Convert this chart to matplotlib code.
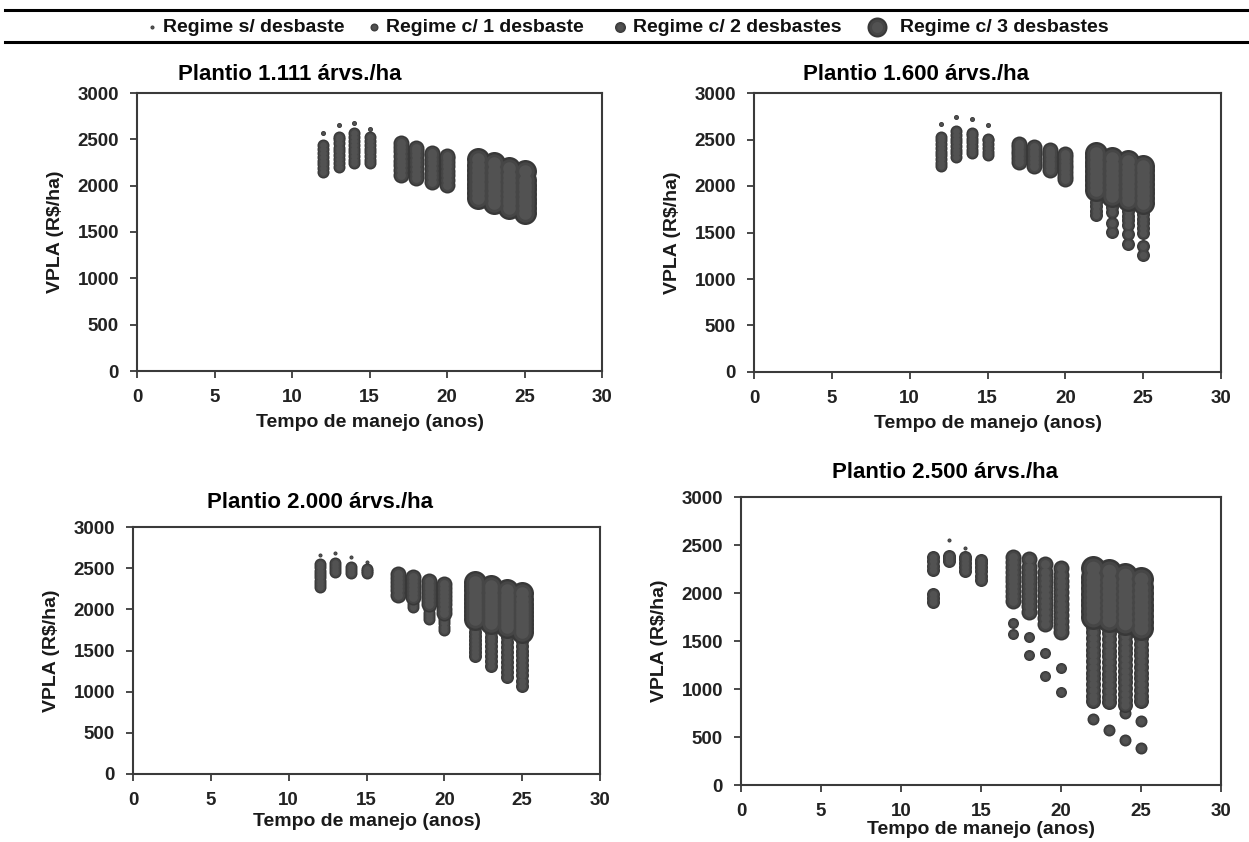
import matplotlib
matplotlib.use('Agg')
import matplotlib.pyplot as plt

plt.rcParams['font.family'] = ['Liberation Sans', 'DejaVu Sans']
plt.rcParams['font.weight'] = 'bold'

W, H, DPI = 1249, 842, 100

# ---------------------------------------------------------------------------
# VPLA (R$/ha) por tempo de manejo (anos) -- cada chave e o ano, cada lista
# sao os valores dos regimes simulados naquele ano
# ---------------------------------------------------------------------------

# Plantio 1.111 arvs./ha
p1111_s0 = {12: [2570], 13: [2660], 14: [2680], 15: [2610]}
p1111_c1 = {12: [2150, 2190, 2230, 2270, 2310, 2350, 2400, 2440],
            13: [2200, 2250, 2290, 2330, 2370, 2410, 2460, 2500, 2530],
            14: [2240, 2280, 2320, 2360, 2400, 2440, 2480, 2520, 2570],
            15: [2240, 2280, 2320, 2360, 2400, 2440, 2480, 2530]}
p1111_c2 = {17: [2120, 2170, 2220, 2270, 2320, 2370, 2420, 2465],
            18: [2085, 2130, 2180, 2230, 2280, 2330, 2370, 2410],
            19: [2040, 2090, 2140, 2190, 2240, 2290, 2330, 2355],
            20: [2010, 2060, 2110, 2160, 2210, 2260, 2300, 2320]}
p1111_c3 = {22: [1870, 1920, 1970, 2020, 2070, 2120, 2170, 2220, 2285],
            23: [1815, 1870, 1920, 1970, 2020, 2070, 2120, 2170, 2250],
            24: [1760, 1810, 1860, 1910, 1960, 2010, 2060, 2110, 2195],
            25: [1705, 1760, 1810, 1860, 1910, 1960, 2010, 2060, 2160]}

# Plantio 1.600 arvs./ha
p1600_s0 = {12: [2670], 13: [2745], 14: [2725], 15: [2660]}
p1600_c1 = {12: [2210, 2250, 2290, 2330, 2370, 2410, 2450, 2490, 2530],
            13: [2310, 2350, 2390, 2430, 2470, 2510, 2550, 2590],
            14: [2350, 2390, 2430, 2470, 2510, 2550, 2575],
            15: [2330, 2370, 2410, 2450, 2490, 2510]}
p1600_c2 = {17: [2255, 2300, 2340, 2380, 2420, 2455],
            18: [2220, 2260, 2300, 2340, 2380, 2420],
            19: [2170, 2210, 2250, 2290, 2330, 2360, 2390],
            20: [2070, 2110, 2150, 2190, 2230, 2270, 2310, 2340]}
p1600_c3 = {22: [1960, 2010, 2060, 2110, 2160, 2210, 2260, 2310, 2355],
            23: [1890, 1940, 1990, 2040, 2090, 2140, 2190, 2240, 2300],
            24: [1850, 1900, 1950, 2000, 2050, 2100, 2150, 2200, 2265],
            25: [1820, 1870, 1920, 1970, 2020, 2070, 2120, 2170, 2210]}
p1600_c3b = {22: [1690, 1730, 1780, 1830, 1880],
             23: [1510, 1600, 1720, 1770, 1820],
             24: [1380, 1480, 1580, 1630, 1680, 1730, 1780],
             25: [1260, 1350, 1500, 1550, 1600, 1650, 1700, 1750]}

# Plantio 2.000 arvs./ha
p2000_s0 = {12: [2660], 13: [2690], 14: [2640], 15: [2580]}
p2000_c1 = {12: [2270, 2310, 2350, 2390, 2430, 2470, 2510, 2550],
            13: [2450, 2490, 2530, 2560],
            14: [2440, 2480, 2510],
            15: [2440, 2470, 2490]}
p2000_c2 = {17: [2180, 2230, 2280, 2330, 2380, 2430],
            18: [2150, 2200, 2250, 2300, 2350, 2390],
            19: [2060, 2110, 2160, 2210, 2260, 2300, 2340],
            20: [1960, 2010, 2060, 2110, 2160, 2210, 2260, 2310]}
p2000_c2b = {18: [2030, 2070, 2110],
             19: [1880, 1920, 1960, 2000, 2040],
             20: [1750, 1790, 1830, 1870, 1910, 1950]}
p2000_c3 = {22: [1880, 1930, 1980, 2030, 2080, 2130, 2180, 2230, 2280, 2330],
            23: [1830, 1880, 1930, 1980, 2030, 2080, 2130, 2180, 2230, 2280],
            24: [1780, 1830, 1880, 1930, 1980, 2030, 2080, 2130, 2180, 2240],
            25: [1720, 1770, 1820, 1870, 1920, 1970, 2020, 2070, 2120, 2200]}
p2000_c3b = {22: [1430, 1480, 1530, 1580, 1630, 1680, 1730, 1780, 1830],
             23: [1310, 1370, 1430, 1490, 1550, 1610, 1670, 1730, 1780],
             24: [1180, 1240, 1300, 1360, 1420, 1480, 1540, 1600, 1660, 1730],
             25: [1070, 1130, 1200, 1260, 1320, 1380, 1440, 1500, 1560, 1620, 1680]}

# Plantio 2.500 arvs./ha
p2500_s0 = {13: [2552], 14: [2472]}
p2500_c1 = {12: [1910, 1950, 1990, 2240, 2280, 2330, 2380],
            13: [2335, 2360, 2385],
            14: [2230, 2270, 2310, 2350, 2370],
            15: [2135, 2180, 2230, 2270, 2310, 2345]}
p2500_c2 = {17: [1920, 1970, 2020, 2070, 2120, 2170, 2220, 2270, 2320, 2380],
            18: [1800, 1860, 1920, 1970, 2020, 2070, 2120, 2170, 2220, 2270, 2350],
            19: [1680, 1740, 1800, 1860, 1920, 1980, 2040, 2100, 2160, 2220, 2300],
            20: [1590, 1650, 1710, 1770, 1830, 1890, 1950, 2010, 2070, 2130, 2190, 2260]}
p2500_c2b = {17: [1573, 1690], 18: [1354, 1538], 19: [1139, 1372], 20: [965, 1222]}
p2500_c3 = {22: [1750, 1810, 1870, 1930, 1990, 2050, 2110, 2170, 2260],
            23: [1720, 1780, 1840, 1900, 1960, 2020, 2080, 2140, 2230],
            24: [1690, 1750, 1810, 1870, 1930, 1990, 2050, 2110, 2190],
            25: [1640, 1700, 1760, 1820, 1880, 1940, 2000, 2060, 2150]}
p2500_c3b = {22: [870, 930, 990, 1050, 1110, 1170, 1230, 1290, 1350, 1410, 1470,
                  1530, 1590, 1650],
             23: [860, 920, 980, 1040, 1100, 1160, 1220, 1280, 1340, 1400, 1460,
                  1520, 1580, 1640],
             24: [830, 890, 950, 1010, 1070, 1130, 1190, 1250, 1310, 1370, 1430,
                  1490, 1550, 1610],
             25: [870, 930, 990, 1050, 1110, 1170, 1230, 1290, 1350, 1410, 1470,
                  1530, 1590]}
p2500_c3c = {22: [684], 23: [573], 24: [469, 753], 25: [382, 667]}

regimes = ['Regime s/ desbaste', 'Regime c/ 1 desbaste',
           'Regime c/ 2 desbastes', 'Regime c/ 3 desbastes']
titulos = ['Plantio 1.111 árvs./ha', 'Plantio 1.600 árvs./ha',
           'Plantio 2.000 árvs./ha', 'Plantio 2.500 árvs./ha']

# ---------------------------------------------------------------------------
# bolhas com sombreado (camadas concentricas)
camadas = [(1.0, '#383838'), (0.80, '#464646'), (0.55, '#525252')]


def pt(d_px):
    return d_px * 72.0 / DPI


def bolhas(ax, grupo, diam):
    xs = [x for x, yy in grupo.items() for _ in yy]
    ys = [y for yy in grupo.values() for y in yy]
    for frac, cor in camadas:
        ax.scatter(xs, ys, s=pt(diam * frac) ** 2, color=cor, linewidths=0,
                   zorder=3, clip_on=False)


fig = plt.figure(figsize=(W / DPI, H / DPI), dpi=DPI)


def fx(px):
    return px / W


def fy(py):
    return 1 - py / H


# (left, right, top, bottom) em pixels, grupos (dados, diametro em px), titulo
paineis = [
    ((137, 602, 93, 371), [(p1111_s0, 5), (p1111_c1, 12), (p1111_c2, 16), (p1111_c3, 23)],
     titulos[0], (290, 75), 6),
    ((754, 1221, 93, 372), [(p1600_s0, 5), (p1600_c1, 12), (p1600_c2, 16),
                            (p1600_c3b, 13), (p1600_c3, 23)],
     titulos[1], (916, 75), 6),
    ((133, 600, 527, 774), [(p2000_s0, 4), (p2000_c1, 12), (p2000_c2b, 12), (p2000_c2, 16),
                            (p2000_c3b, 13), (p2000_c3, 23)],
     titulos[2], (320, 502), 3),
    ((741, 1221, 497, 785), [(p2500_s0, 4), (p2500_c1, 13), (p2500_c2b, 11), (p2500_c2, 16),
                             (p2500_c3c, 12), (p2500_c3b, 15), (p2500_c3, 25)],
     titulos[3], (945, 472), 1),
]

cor_eixo = '#3a3a3a'
for (l, r, t, b), grupos, titulo, (tx, ty), lpad in paineis:
    ax = fig.add_axes([fx(l), fy(b), fx(r) - fx(l), fy(t) - fy(b)])
    for dados, d in grupos:
        bolhas(ax, dados, d)
    ax.set_xlim(0, 30)
    ax.set_ylim(0, 3000)
    ax.set_xticks(range(0, 31, 5))
    ax.set_yticks(range(0, 3001, 500))
    for sp in ax.spines.values():
        sp.set_color(cor_eixo)
        sp.set_linewidth(1.5)
    ax.tick_params(direction='out', length=5, width=1.3, color=cor_eixo,
                   labelsize=13.5, labelcolor='#222222', pad=8)
    ax.set_xlabel('Tempo de manejo (anos)', fontsize=14, fontweight='bold',
                  labelpad=lpad, color='#1a1a1a')
    ax.set_ylabel('VPLA (R$/ha)', fontsize=14, fontweight='bold',
                  labelpad=10, color='#1a1a1a')
    fig.text(fx(tx), fy(ty), titulo, ha='center', va='center', fontsize=16,
             color='#000000')

# legenda no topo, entre duas linhas horizontais
fundo = fig.add_axes([0, 0, 1, 1], zorder=-1)
fundo.set_xlim(0, W)
fundo.set_ylim(H, 0)
fundo.axis('off')
fundo.plot([5, W], [10, 10], color='black', lw=2.2)
fundo.plot([5, W], [42, 42], color='black', lw=2.2)
leg_x = [152, 374, 620, 877]
leg_tx = [163, 386, 633, 900]
leg_d = [4, 8, 11, 20]
for x0, x1, d, nome in zip(leg_x, leg_tx, leg_d, regimes):
    for frac, cor in camadas:
        fundo.scatter([x0], [27], s=pt(d * frac) ** 2, color=cor, linewidths=0)
    fundo.text(x1, 27, nome, ha='left', va='center', fontsize=14,
               color='#111111')

fig.savefig('out.png', dpi=DPI)
